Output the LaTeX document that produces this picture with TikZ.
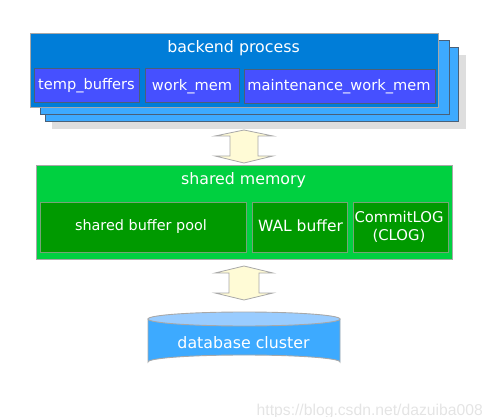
\documentclass[tikz,border=0pt]{standalone}
\usepackage{fontspec}
\setmainfont{DejaVu Sans}
\newfontfamily\wmfont{Liberation Sans}
\definecolor{mainblue}{HTML}{007DD8}
\definecolor{innerblue}{HTML}{4650FF}
\definecolor{backblue}{HTML}{3DAAFF}
\definecolor{edgeblue}{HTML}{4A6078}
\definecolor{maingreen}{HTML}{00D040}
\definecolor{innergreen}{HTML}{009A00}
\definecolor{arrowfill}{HTML}{FFFBD6}
\definecolor{cyltop}{HTML}{99CCFF}
\definecolor{softedge}{HTML}{A8A8A8}
\definecolor{shadowgray}{HTML}{DEDEDE}
\definecolor{wmgray}{HTML}{E4E4E4}
\tikzset{
  lbl/.style={text=white,font=\fontsize{14.6}{17}\selectfont,inner sep=0pt,align=center},
  biglbl/.style={lbl,font=\fontsize{15.8}{18}\selectfont},
  frontbox/.style={draw=softedge,fill=mainblue,line width=0.8pt},
  stackbox/.style={draw=edgeblue,fill=backblue,line width=0.8pt},
  procbox/.style={draw=edgeblue,fill=innerblue,line width=0.8pt},
  membox/.style={draw=softedge,fill=maingreen,line width=0.8pt},
  bufbox/.style={draw=softedge!70!innergreen,fill=innergreen,line width=0.8pt},
  flowarrow/.style={draw=softedge,fill=arrowfill,line width=0.8pt,line join=miter},
  cylside/.style={draw=softedge,fill=backblue,line width=0.9pt},
  cylcap/.style={draw=softedge,fill=cyltop,line width=0.9pt},
}
\begin{document}
\begin{tikzpicture}[x=1pt,y=-1pt]
\useasboundingbox (0,0) rectangle (485,417);
% stacked backend process
\fill[shadowgray] (52,55) rectangle (466,129);
\draw[stackbox] (45,47) rectangle (458,121);
\draw[stackbox] (40,40) rectangle (449,114);
\draw[frontbox] (30,33) rectangle (438,107);
\node[biglbl] (backend) at (233.5,48.5) {backend process};
\draw[procbox] (34,68) rectangle (139,102);
\node[lbl] (temp) at (86.5,85.5) {temp\_buffers};
\draw[procbox] (145,68.5) rectangle (239,102.5);
\node[lbl] (work) at (192,86.5) {work\_mem};
\draw[procbox] (244,69) rectangle (435,103);
\node[lbl] (maint) at (339,86.5) {maintenance\_work\_mem};
% upper arrow
\draw[flowarrow] (244,130) -- (273,136) -- (258,136) -- (258,156) -- (273,156)
  -- (244,163) -- (215,156) -- (230,156) -- (230,136) -- (215,136) -- cycle;
% shared memory
\draw[membox] (36,165) rectangle (452,259);
\node[biglbl] (shared) at (243.5,180.5) {shared memory};
\draw[bufbox] (40,202) rectangle (246,252);
\node[lbl,font=\fontsize{14.4}{17}\selectfont] (pool) at (141,227) {shared buffer pool};
\draw[bufbox] (252,202) rectangle (347,252);
\node[lbl,font=\fontsize{15.5}{18}\selectfont] (wal) at (300.5,226) {WAL buffer};
\draw[bufbox] (353,202) rectangle (448,252);
\node[lbl,font=\fontsize{14.8}{18}\selectfont] (clog) at (399,227) {CommitLOG\\(CLOG)};
% lower arrow
\draw[flowarrow] (244,266) -- (273,273) -- (259,273) -- (259,293) -- (273,293)
  -- (244,300) -- (215,293) -- (229,293) -- (229,273) -- (215,273) -- cycle;
% database cluster
\draw[cylside] (148,319) -- (148,362) arc[start angle=180,end angle=360,x radius=96,y radius=7] -- (340,319) -- cycle;
\draw[cylcap] (244,319) ellipse [x radius=96,y radius=7];
\node[biglbl] (cluster) at (243.5,343) {database cluster};
% watermark
\node[text=wmgray,font=\wmfont\fontsize{15.7}{18}\selectfont,inner sep=0pt,anchor=east] (mark) at (483,411) {https://blog.csdn.net/dazuiba008};
\end{tikzpicture}
\end{document}
